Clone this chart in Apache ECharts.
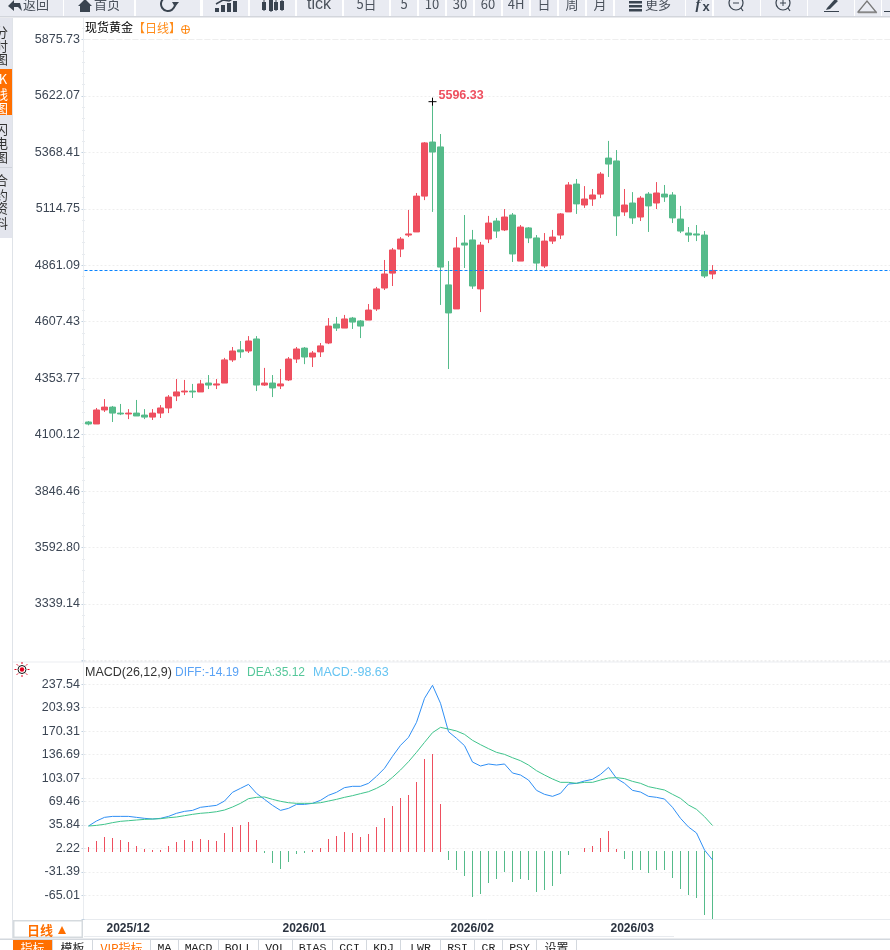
<!DOCTYPE html>
<html>
<head>
<meta charset="utf-8">
<title>现货黄金 日线</title>
<script src="https://cdn.jsdelivr.net/npm/echarts@6/dist/echarts.min.js"></script>
<style>
html, body { margin: 0; padding: 0; background: #fff; overflow: hidden; }
#chart { width: 890px; height: 950px; }
</style>
</head>
<body>
<div id="chart"></div>
<script>
'use strict';

// daily candles
const opens = [4157,4148,4211,4224,4197,4193,4197,4188,4179,4197,4220,4274,4292,4296,4292,4332,4323,4332,4436,4481,
  4476,4530,4323,4332,4319,4346,4440,4489,4449,4472,4512,4597,4579,4624,4611,4615,4665,4759,4826,4934,
  4997,5011,5172,5415,5393,4773,4665,4961,4975,4755,4979,5060,5020,5087,4880,5029,4984,4858,4970,4997,
  5101,5226,5132,5159,5181,5343,5330,5101,5141,5078,5181,5141,5181,5177,5069,5006,5002,4997,4822];
const closes = [4148,4211,4224,4197,4193,4197,4184,4179,4197,4220,4269,4292,4296,4292,4328,4323,4328,4436,4476,4472,
  4521,4323,4332,4310,4328,4440,4485,4449,4467,4499,4588,4579,4620,4606,4588,4660,4755,4822,4930,4979,
  5002,5172,5411,5370,4853,4647,4939,4952,4768,4952,5051,5015,5078,4912,5033,4984,4871,4970,4988,5092,
  5222,5137,5159,5177,5271,5316,5083,5132,5074,5163,5128,5186,5168,5074,5015,4997,4997,4813,4838];
const lows = [4142,4148,4202,4157,4188,4170,4184,4170,4166,4175,4197,4251,4278,4265,4292,4305,4305,4332,4427,4445,
  4467,4296,4319,4269,4305,4341,4422,4417,4404,4449,4507,4566,4579,4575,4534,4615,4656,4750,4768,4898,
  4988,5011,5154,5101,4683,4395,4665,4849,4755,4651,4961,4984,5015,4876,4880,4961,4840,4849,4957,4979,
  5101,5092,5119,5128,5163,5258,4993,5083,5047,5060,5011,5114,5146,5051,5006,4966,4970,4804,4799];
const highs = [4161,4220,4260,4229,4238,4215,4256,4215,4215,4233,4278,4350,4346,4328,4346,4368,4350,4445,4494,4521,
  4543,4543,4400,4368,4395,4449,4494,4494,4476,4512,4624,4629,4638,4629,4615,4687,4764,4885,4939,4988,
  5110,5186,5415,5596.33,5451,4880,4988,5087,5020,4966,5083,5074,5114,5096,5042,5033,4997,5006,5020,5096,
  5235,5249,5217,5204,5280,5420,5379,5204,5190,5172,5190,5235,5222,5190,5128,5033,5042,5015,4862];

const diffValues = [34.4,41.6,46.8,48.2,48.2,48.2,46.8,45.4,44.4,45.4,48.2,52.6,55.4,56.8,61.2,62.6,64,70.2,82.7,88.4,
  94.1,81.2,72.6,64,56.8,59.7,65.4,65.4,66.9,71.2,78.4,82.7,89.4,91.3,91.3,95.6,105.6,117.1,134.3,150,
  161.5,183,217.4,236.1,210.3,169.6,160.1,149.6,126.1,120.4,123.3,121.8,123.3,110.4,107.5,100.3,85.5,79.8,76.9,81.2,
  94.6,95.6,98.9,101.3,108.4,118.5,102.7,95.6,85.5,83.1,76.9,75.5,73.1,61.2,45.4,33,24.4,0,-14.19];
const deaValues = [34.4,35.3,36.8,39.2,41.1,42,43,43.9,44.4,44.9,46.3,47.3,49.2,51.1,52.6,53.5,54.9,57.3,61.6,66.9,
  73.6,75.5,76,72.6,69.8,67.8,66.9,66.9,66.9,67.8,70.2,72.6,75.5,77.9,80.8,83.6,88.4,94.6,104.2,114.7,
  126.6,140,154.3,168.2,175.8,173.4,170.6,165.8,157.2,151,145.3,140,137.1,132.3,128,121.8,113.7,107.5,101.8,97,
  97,95.6,97,97,100.3,103.2,103.7,102.3,98.4,95.6,90.8,88.4,86,79.8,74,64.5,58.3,47.8,35.12];
const macdValues = [4.3,12.9,18.6,17.2,14.3,11.5,5.7,1.4,0.3,0.3,5.7,11.5,14.3,12.9,15.8,14.3,12.9,24.4,33,35.8,
  40.1,14.3,-4.3,-18.6,-27.3,-17.2,-5.8,-4.3,0.6,2.9,15.8,20,25.8,24.4,18.6,22.9,33,45.9,63,74.5,
  78.8,97.5,130.4,137.6,65.9,-14.4,-28.7,-37.3,-67.4,-63.1,-47.3,-41.6,-31.6,-45.9,-41.6,-43,-60.2,-57.4,-51.6,-34.4,
  -7.2,-1.5,2.9,5.7,17.2,27.2,1.4,-12.9,-28.7,-28.7,-33,-28.7,-28.7,-40.2,-55.9,-64.5,-68.8,-93.2,-98.63];

const lastPrice = 4837.73;
const highValue = 5596.33;
const highIndex = 43;

// tick labels, the blank ends sit outside the part of the axis that carries text
const priceTicks = ['', '3339.14', '3592.80', '3846.46', '4100.12', '4353.77', '4607.43', '4861.09',
  '5114.75', '5368.41', '5622.07', '5875.73', ''];
const macdTicks = ['', '-65.01', '-31.39', '2.22', '35.84', '69.46', '103.07', '136.69',
  '170.31', '203.93', '237.54', ''];
const monthStarts = [2, 24, 45, 65];
const monthLabels = ['2025/12', '2026/01', '2026/02', '2026/03'];

const toolbarButtons = [
  ['返回', 0, 63], ['首页', 64, 70], ['', 136, 64], ['', 203, 45], ['', 250, 45], ['tick', 297, 45], ['5日', 344, 45],
  ['5', 391, 26], ['10', 419, 26], ['30', 447, 26], ['60', 475, 26], ['4H', 503, 26], ['日', 531, 26], ['周', 559, 26],
  ['月', 587, 26], ['更多', 615, 70], ['', 686, 26], ['', 714, 46], ['', 761, 46], ['', 808, 46], ['', 855, 26], ['', 882, 8]
];
const sideTabs = [
  ['分', 32], ['时', 46], ['图', 59], ['K', 79], ['线', 94], ['图', 108], ['闪', 129], ['电', 143], ['图', 157],
  ['合', 180], ['约', 195], ['资', 208], ['料', 223]
];
const indicatorTabs = [
  ['指标', 13, 39], ['模板', 53, 39], ['VIP指标', 93, 57], ['MA', 151, 27], ['MACD', 179, 39], ['BOLL', 219, 39],
  ['VOL', 259, 33], ['BIAS', 293, 39], ['CCI', 333, 33], ['KDJ', 367, 33], ['LWR', 401, 39], ['RSI', 441, 33],
  ['CR', 475, 27], ['PSY', 503, 33], ['设置', 537, 39]
];

const RED = '#ee4f5f';
const GREEN = '#55bb8a';
const ORANGE = '#ff6f00';
const BAND = 8;
const LEFT = 84.5;
const CATEGORY_COUNT = 101;
const LATIN = '"Liberation Sans", Arial, sans-serif';
const CJK = '"Noto Sans CJK SC", sans-serif';

const categories = [];
for (let i = 0; i < CATEGORY_COUNT; i++) {
  const m = monthStarts.indexOf(i);
  categories.push(m >= 0 ? monthLabels[m] : String(i));
}
const candles = opens.map((o, i) => [o, closes[i], lows[i], highs[i]]);
const macdPoints = macdValues.map((v, i) => [i, v]);
const isMonthStart = (i) => monthStarts.indexOf(i) >= 0;

function box(x, y, w, h, fill) {
  return {type: 'rect', silent: true, z: 100, shape: {x: x, y: y, width: w, height: h}, style: {fill: fill}};
}
function label(text, x, y, color, font, align) {
  return {type: 'text', silent: true, z: 102, style: {
    text: text, x: x, y: y, fill: color, font: font, textAlign: align || 'left', textVerticalAlign: 'middle'
  }};
}
function stroke(type, shape, color, width) {
  return {type: type, silent: true, z: 102, shape: shape, style: {fill: 'none', stroke: color, lineWidth: width || 1}};
}
function fillPoly(points, color) {
  return {type: 'polygon', silent: true, z: 102, shape: {points: points}, style: {fill: color}};
}

function toolbarIcons() {
  const c = '#3a4450';
  const out = [];
  out.push(fillPoly([[8, 6], [14, 0], [14, 3], [20, 3], [22, 11], [18, 7], [14, 7], [14, 11]], c));
  out.push(fillPoly([[78, 6], [85, -1], [92, 6], [90, 6], [90, 12], [80, 12], [80, 6]], c));
  out.push(stroke('arc', {cx: 168, cy: 4, r: 7, startAngle: 0.2, endAngle: 5.6}, c, 2));
  out.push(fillPoly([[172, 2], [179, 2], [175, 7]], c));
  [[217, 8], [223, 5], [229, 3], [235, 1]].forEach((b) => {
    const r = box(b[0] - 2, b[1], 4, 12 - b[1], c);
    r.z = 102;
    out.push(r);
  });
  out.push(stroke('polyline', {points: [[216, 4], [223, 0], [229, 1], [236, -3]]}, c, 1.5));
  [[264, 2, 8], [271, 0, 11], [276, 2, 8], [282, 1, 9]].forEach((b) => {
    const r = box(b[0] - 2, b[1], 4, b[2], c);
    r.z = 102;
    out.push(r);
    out.push(stroke('line', {x1: b[0], y1: b[1] - 2, x2: b[0], y2: b[1] + b[2] + 1}, c, 1));
  });
  [1, 5, 9].forEach((y) => {
    const r = box(629, y, 13, 2.5, c);
    r.z = 102;
    out.push(r);
  });
  out.push(label('f', 698, 5, c, 'italic bold 15px "Liberation Serif", serif', 'center'));
  out.push(label('x', 706, 7, c, 'bold 13px ' + LATIN, 'center'));
  [736, 783].forEach((x) => {
    out.push(stroke('circle', {cx: x, cy: 3, r: 7}, c, 1.2));
    out.push(stroke('line', {x1: x - 3, y1: 3, x2: x + 3, y2: 3}, c, 1));
    out.push(stroke('line', {x1: x + 5, y1: 8, x2: x + 7, y2: 11}, c, 1.2));
  });
  out.push(stroke('line', {x1: 783, y1: 0, x2: 783, y2: 6}, c, 1));
  out.push(fillPoly([[827, 8], [835, -1], [838, 1], [830, 9], [826, 10]], c));
  out.push(stroke('line', {x1: 824, y1: 11.5, x2: 839, y2: 11.5}, c, 1));
  out.push({type: 'polygon', silent: true, z: 102, shape: {points: [[858, 12], [867, 1], [876, 12]]},
    style: {fill: 'none', stroke: '#777', lineWidth: 1.2}});
  out.push(stroke('line', {x1: 858, y1: 12.5, x2: 877, y2: 12.5}, '#888', 1.5));
  out.push(stroke('line', {x1: 884, y1: 11.5, x2: 890, y2: 11.5}, c, 1));
  return out;
}

function chrome() {
  const out = [];
  // top toolbar, scrolled partly out of the window
  out.push(box(0, 0, 890, 18, '#ffffff'));
  out.push(box(0, 16, 890, 1.5, '#d3d6dc'));
  toolbarButtons.forEach((b) => {
    out.push(box(b[1], 0, b[2], 16, '#e9ebf2'));
  });
  const textX = {返回: 36, 首页: 107, tick: 319, 更多: 658};
  toolbarButtons.forEach((b) => {
    if (!b[0]) {
      return;
    }
    const font = b[0] === 'tick' ? '16px ' + LATIN : '13px ' + CJK;
    const x = textX[b[0]] !== undefined ? textX[b[0]] : b[1] + b[2] / 2;
    out.push(label(b[0], x, b[0] === 'tick' ? 4.5 : 4, '#4b525c', font, 'center'));
  });
  out.push.apply(out, toolbarIcons());

  // left tabs
  out.push(box(0, 18, 12, 220, '#e3e5ed'));
  out.push(box(0, 69, 12, 46, ORANGE));
  out.push(box(0, 167, 12, 1, '#cfd3da'));
  sideTabs.forEach((t) => {
    const active = t[1] > 69 && t[1] < 115;
    out.push(label(t[0], t[0] === 'K' ? 3 : 1.5, t[1], active ? '#fff' : '#333', '13px ' + CJK, 'center'));
  });
  out.push(box(12, 18, 1, 920, '#dfe3e8'));

  // price and oscillator axis rule
  out.push(box(83, 18, 1, 901, '#e9ecf0'));

  // titles
  out.push(label('现货黄金', 85, 27, '#000', '12px ' + CJK));
  out.push(label('【日线】', 133, 28, '#ff8c1a', '12px ' + CJK));
  out.push(stroke('circle', {cx: 185.5, cy: 29.5, r: 4}, '#ff8c1a', 1));
  out.push(stroke('line', {x1: 181, y1: 29.5, x2: 190, y2: 29.5}, '#ff8c1a', 1));
  out.push(stroke('line', {x1: 185.5, y1: 25, x2: 185.5, y2: 34}, '#ff8c1a', 1));
  out.push(label('MACD(26,12,9)', 85, 672.5, '#333', '12.5px ' + LATIN));
  out.push(label('DIFF:-14.19', 175, 672.5, '#5ba3f5', '12px ' + LATIN));
  out.push(label('DEA:35.12', 247, 672.5, '#55c79a', '12px ' + LATIN));
  out.push(label('MACD:-98.63', 313, 672.5, '#66c4f2', '12.5px ' + LATIN));

  // indicator lamp
  out.push(stroke('circle', {cx: 22, cy: 669.5, r: 4}, '#111', 1));
  out.push({type: 'circle', silent: true, z: 102, shape: {cx: 22, cy: 669.5, r: 2.2}, style: {fill: '#e6001f'}});
  for (let k = 0; k < 8; k++) {
    const a = k * Math.PI / 4;
    out.push(stroke('line', {
      x1: 22 + Math.cos(a) * 5.5, y1: 669.5 + Math.sin(a) * 5.5,
      x2: 22 + Math.cos(a) * 7.5, y2: 669.5 + Math.sin(a) * 7.5
    }, '#e6001f', 1));
  }

  // pane separators
  out.push(box(13, 661.5, 877, 1, '#eceef1'));
  out.push(box(84, 936, 590, 1, '#e8ebef'));
  out.push(box(0, 938.5, 890, 1.5, '#d3d8de'));

  // period selector
  out.push(box(13, 920, 70, 18, '#d5dade'));
  out.push(box(14.5, 921.5, 67, 15, '#ffffff'));
  out.push(label('日线', 27, 930, ORANGE, 'bold 13px ' + CJK));
  out.push(fillPoly([[58, 934], [62, 926], [66, 934]], ORANGE));

  // indicator tabs, cut by the bottom of the window
  indicatorTabs.forEach((t, i) => {
    if (i === 0) {
      out.push(box(t[1], 940, t[2], 10, ORANGE));
    }
    out.push(box(t[1] + t[2], 940, 1, 10, '#d3d8de'));
    const color = i === 0 ? '#fff' : i === 2 ? ORANGE : '#222';
    const font = /[A-Z]$/.test(t[0]) ? '11.5px "Liberation Mono", monospace' : '12px ' + CJK;
    out.push(label(t[0], t[1] + t[2] / 2, 948, color, font, 'center'));
  });
  return out;
}

// one pixel wide histogram stems, snapped to whole pixels like the source terminal draws them
function renderMacdBar(params, api) {
  const value = api.value(1);
  const tip = api.coord([api.value(0), value]);
  const zero = api.coord([api.value(0), 0])[1];
  const x = Math.floor(tip[0]);
  const tipY = Math.round(tip[1]);
  if (value >= 0) {
    const bottom = Math.round(zero + 2);
    return {type: 'rect', shape: {x: x, y: tipY, width: 1, height: bottom - tipY}, style: {fill: RED}};
  }
  const top = Math.round(zero + 1);
  return {type: 'rect', shape: {x: x, y: top, width: 1, height: tipY - top}, style: {fill: GREEN}};
}

const yLabelStyle = {margin: 4.5, color: '#3c4654', fontSize: 12.5, fontFamily: LATIN};

const option = {
  animation: false,
  backgroundColor: '#ffffff',
  graphic: {elements: chrome()},
  grid: [
    {left: LEFT, top: 0, width: BAND * CATEGORY_COUNT, height: 660.45, outerBoundsMode: 'none'},
    {left: LEFT, top: 660.85, width: BAND * CATEGORY_COUNT, height: 257.95, outerBoundsMode: 'none'}
  ],
  xAxis: [
    {type: 'category', gridIndex: 0, data: categories, show: false},
    {
      type: 'category', gridIndex: 1, data: categories,
      axisLine: {onZero: false, lineStyle: {color: '#e8ebef', width: 1}},
      axisTick: {alignWithLabel: true, length: 4, interval: isMonthStart, lineStyle: {color: '#cdd5dc'}},
      axisLabel: {
        interval: isMonthStart, align: 'left', margin: 4, padding: [0, 0, 0, 2], hideOverlap: false,
        color: '#2b3340', fontSize: 12, fontWeight: 'bold', fontFamily: LATIN
      }
    }
  ],
  yAxis: [
    {
      type: 'value', gridIndex: 0, scale: true,
      min: 3085.481, max: 6053.22, interval: 253.659,
      axisLine: {show: false},
      axisTick: {show: true, length: 3, lineStyle: {color: '#c3d2e0'}},
      minorTick: {show: true, splitNumber: 5, length: 2, lineStyle: {color: '#cfd6de'}},
      axisLabel: Object.assign({formatter: (v, i) => priceTicks[i] || ''}, yLabelStyle),
      splitLine: {show: true, lineStyle: {color: '#eeeeee', type: [2, 2]}}
    },
    {
      type: 'value', gridIndex: 1, scale: true,
      min: -98.6267, max: 271.1567, interval: 33.6167,
      axisLine: {show: false},
      axisTick: {show: true, length: 3, lineStyle: {color: '#c3d2e0'}},
      axisLabel: Object.assign({formatter: (v, i) => macdTicks[i] || ''}, yLabelStyle),
      splitLine: {show: true, lineStyle: {color: '#eeeeee', type: [2, 2]}}
    }
  ],
  series: [
    {
      name: '日线', type: 'candlestick', xAxisIndex: 0, yAxisIndex: 0, barWidth: 6, data: candles,
      itemStyle: {color: RED, color0: GREEN, borderColor: RED, borderColor0: GREEN, borderWidth: 1},
      markLine: {
        silent: true, symbol: 'none', animation: false, label: {show: false},
        data: [
          {yAxis: lastPrice, lineStyle: {color: '#0a84ff', type: [3, 2], width: 1}},
          {yAxis: 5875.73, lineStyle: {color: '#eeeeee', type: [5, 3], width: 1}}
        ]
      },
      markPoint: {
        silent: true, animation: false,
        symbol: 'path://M0 5H10M5 0V10', symbolSize: 8,
        itemStyle: {color: 'none', borderColor: '#000', borderWidth: 1},
        label: {
          show: true, position: 'right', distance: 1, offset: [-1.5, -6.5], formatter: String(highValue),
          color: RED, fontSize: 12.5, fontWeight: 'bold', fontFamily: LATIN
        },
        data: [{coord: [highIndex, highValue]}]
      }
    },
    {
      name: 'MACD', type: 'custom', xAxisIndex: 1, yAxisIndex: 1, data: macdPoints,
      encode: {x: 0, y: 1}, renderItem: renderMacdBar
    },
    {
      name: 'DIFF', type: 'line', xAxisIndex: 1, yAxisIndex: 1, data: diffValues, showSymbol: false,
      lineStyle: {color: '#2f8ff5', width: 1}
    },
    {
      name: 'DEA', type: 'line', xAxisIndex: 1, yAxisIndex: 1, data: deaValues, showSymbol: false,
      lineStyle: {color: '#3fc48c', width: 1}
    }
  ]
};

const chart = echarts.init(document.getElementById('chart'));
chart.setOption(option);
</script>
</body>
</html>
